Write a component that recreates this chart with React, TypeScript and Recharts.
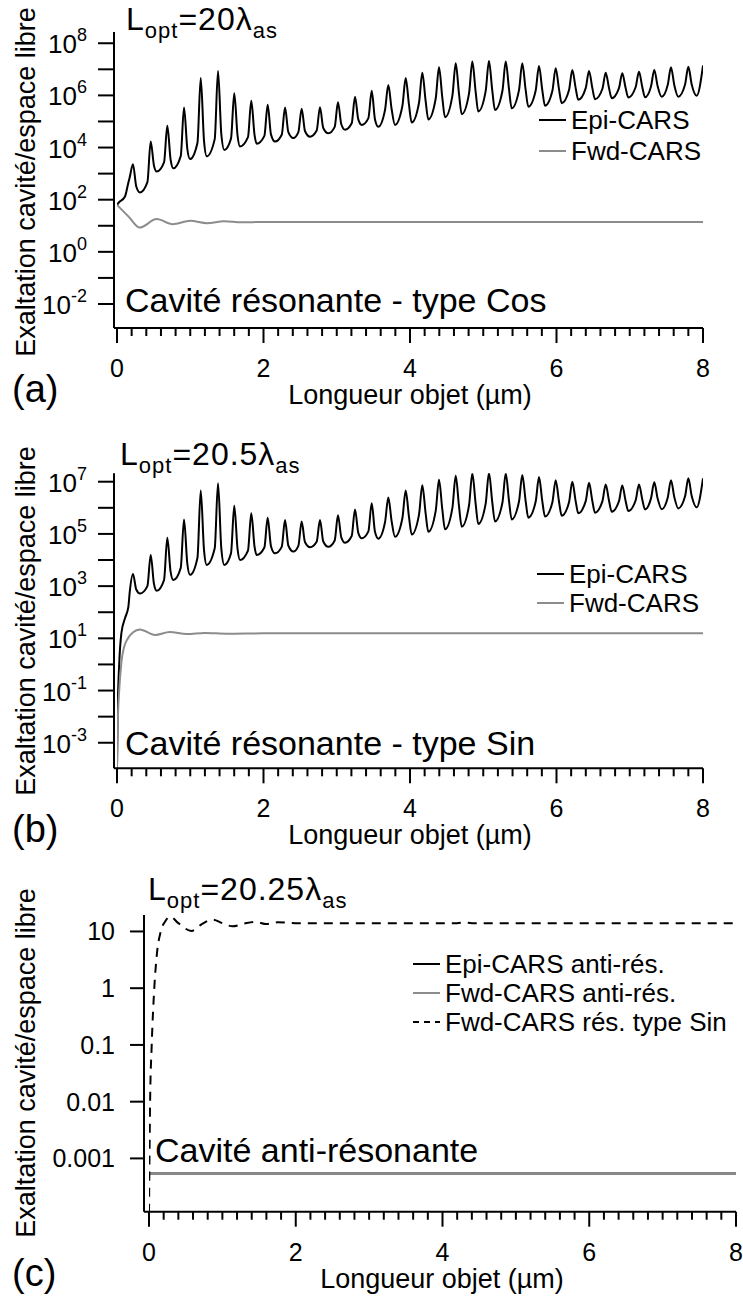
import React from "react";
import { LineChart, Line, XAxis, YAxis } from "recharts";

const FONT = "'Liberation Sans', Arial, Helvetica, sans-serif";
const GREY = "#8c8c8c";
const W = 743;

// abscissa (µm)
const xMajorTicks = [0, 2, 4, 6, 8];
const xAllTicks = Array.from({ length: 41 }, (_, i) => Math.round(i * 2) / 10);

// (a) + (b): Epi-CARS resonances - foot before the peak, peak, foot after, minimum (µm)
const epiPreX = [
  0.173, 0.415, 0.642, 0.87, 1.098, 1.334, 1.556, 1.788, 2.012, 2.249, 2.476, 2.726,
  2.972, 3.204, 3.432, 3.659, 3.896, 4.123, 4.351, 4.579, 4.806, 5.033, 5.262, 5.488,
  5.716, 5.944, 6.171, 6.399, 6.627, 6.853, 7.081, 7.29, 7.518, 7.755,
];
const epiPeakX = [
  0.218, 0.46, 0.687, 0.915, 1.143, 1.379, 1.601, 1.833, 2.057, 2.294, 2.521, 2.771,
  3.017, 3.249, 3.477, 3.704, 3.941, 4.168, 4.396, 4.624, 4.851, 5.078, 5.307, 5.533,
  5.761, 5.989, 6.216, 6.444, 6.672, 6.898, 7.126, 7.335, 7.563, 7.8,
];
const epiPostX = [
  0.263, 0.505, 0.732, 0.96, 1.188, 1.424, 1.646, 1.878, 2.102, 2.339, 2.566, 2.816,
  3.062, 3.294, 3.522, 3.749, 3.986, 4.213, 4.441, 4.669, 4.896, 5.123, 5.352, 5.578,
  5.806, 6.034, 6.261, 6.489, 6.717, 6.943, 7.171, 7.38, 7.608, 7.845,
];
const epiDipX = [
  0.314, 0.542, 0.769, 0.997, 1.225, 1.465, 1.679, 1.907, 2.157, 2.407, 2.635, 2.885,
  3.113, 3.341, 3.567, 3.795, 4.023, 4.25, 4.478, 4.706, 4.932, 5.16, 5.388, 5.615,
  5.843, 6.071, 6.297, 6.525, 6.754, 6.98, 7.208, 7.436, 7.663, 7.914,
];

// (a) cavité résonante - type Cos
const cosEpiStartX = [0, 0.018, 0.109, 0.154];
const cosEpiStart = [63, 74, 132, 440];
const cosEpiPre = [
  710, 470, 2.7e3, 4.7e3, 1.5e4, 2.1e4, 2.2e4, 2.5e4, 2.8e4, 3.1e4, 3.9e4, 4.5e4,
  6.2e4, 8.5e4, 1.35e5, 2.75e5, 3.9e5, 5.2e5, 7.6e5, 9.8e5, 1.2e6, 1.45e6, 1.5e6, 1.6e6,
  1.55e6, 1.5e6, 1.6e6, 1.9e6, 1.8e6, 1.9e6, 2.1e6, 2.2e6, 2.5e6, 2.6e6,
];
const cosEpiPeaks = [
  2.3e3, 1.7e4, 6.8e4, 3.4e5, 4.6e6, 8.7e6, 1.2e6, 6.2e5, 4.4e5, 3.4e5, 3.1e5, 3.5e5,
  5.5e5, 8.9e5, 1.5e6, 2.5e6, 4.6e6, 7.4e6, 1.2e7, 1.7e7, 2.0e7, 2.1e7, 2.0e7, 1.7e7,
  1.35e7, 1.1e7, 9.5e6, 8.7e6, 7.4e6, 7.1e6, 8.1e6, 9.5e6, 1.2e7, 1.25e7,
];
const cosEpiPost = [
  320, 2.0e3, 3.4e3, 8.9e3, 1.8e4, 3.3e4, 2.8e4, 3.0e4, 3.2e4, 3.9e4, 4.3e4, 5.6e4,
  7.8e4, 1.2e5, 1.2e5, 3.0e5, 4.4e5, 6.3e5, 8.3e5, 1.15e6, 1.4e6, 1.55e6, 1.7e6, 1.7e6,
  1.6e6, 1.75e6, 1.95e6, 1.95e6, 1.9e6, 1.95e6, 2.1e6, 2.3e6, 2.5e6, 2.7e6,
];
const cosEpiDips = [
  190, 1.2e3, 1.6e3, 3.6e3, 4.6e3, 8.1e3, 1.1e4, 1.4e4, 1.7e4, 2.3e4, 2.6e4, 3.5e4,
  4.8e4, 7.4e4, 6.3e4, 7.4e4, 9.1e4, 1.2e5, 1.45e5, 1.9e5, 2.4e5, 2.75e5, 3.2e5, 3.7e5,
  4.0e5, 5.0e5, 6.8e5, 7.1e5, 7.8e5, 8.3e5, 8.5e5, 8.9e5, 8.9e5, 9.8e5,
];
const cosEpiEnd = 1.4e7;
const cosFwdX = [0, 0.155, 0.31, 0.54, 0.76, 1.0, 1.23, 1.46, 1.7, 2.0, 8];
const cosFwd = [63, 23, 8.5, 18, 11.5, 15.5, 12.6, 15, 13.5, 14, 14];

// (b) cavité résonante - type Sin
const sinEpiStartX = [0, 0.008, 0.03, 0.06, 0.11, 0.155];
const sinEpiStart = [1.1e-4, 1e-2, 1, 16, 60, 160];
const sinEpiPre = [
  560, 1.0e3, 1.7e3, 5.0e3, 1.2e4, 2.8e4, 1.8e4, 2.3e4, 3.0e4, 3.2e4, 3.5e4, 5.0e4,
  5.6e4, 8.3e4, 1.25e5, 2.8e5, 4.0e5, 5.5e5, 7.6e5, 1.0e6, 1.25e6, 1.45e6, 1.6e6, 1.75e6,
  1.75e6, 1.65e6, 1.65e6, 1.8e6, 1.8e6, 1.8e6, 1.95e6, 2.3e6, 2.45e6, 2.75e6,
];
const sinEpiPeaks = [
  2.9e3, 1.55e4, 7.1e4, 3.6e5, 4.6e6, 8.7e6, 1.2e6, 6.2e5, 4.2e5, 3.4e5, 3.0e5, 3.4e5,
  5.2e5, 8.7e5, 1.5e6, 2.5e6, 4.6e6, 7.4e6, 1.2e7, 1.7e7, 2.1e7, 2.2e7, 2.1e7, 1.8e7,
  1.5e7, 1.15e7, 1.0e7, 9.1e6, 7.9e6, 7.2e6, 7.9e6, 9.5e6, 1.15e7, 1.35e7,
];
const sinEpiPost = [
  740, 1.2e3, 3.5e3, 7.2e3, 2.4e4, 2.8e4, 2.6e4, 3.2e4, 3.4e4, 3.6e4, 4.9e4, 5.1e4,
  7.4e4, 1.1e5, 1.2e5, 3.1e5, 4.5e5, 6.3e5, 8.7e5, 1.15e6, 1.45e6, 1.65e6, 1.8e6, 1.9e6,
  1.8e6, 1.75e6, 1.85e6, 1.85e6, 1.85e6, 1.85e6, 2.1e6, 2.3e6, 2.6e6, 2.9e6,
];
const sinEpiDips = [
  520, 660, 1.7e3, 2.7e3, 6.5e3, 6.5e3, 1.0e4, 1.55e4, 1.8e4, 2.1e4, 3.1e4, 3.2e4,
  4.6e4, 6.8e4, 6.6e4, 7.8e4, 9.5e4, 1.2e5, 1.5e5, 1.9e5, 2.4e5, 3.0e5, 3.6e5, 4.2e5,
  4.6e5, 5.0e5, 6.2e5, 6.5e5, 7.1e5, 7.6e5, 8.7e5, 8.9e5, 9.5e5, 1.05e6,
];
const sinEpiEnd = 1.35e7;
const sinFwdX = [0, 0.01, 0.03, 0.06, 0.1, 0.15, 0.22, 0.31, 0.52, 0.72, 0.95, 1.2, 1.5, 2, 8];
const sinFwd = [1.1e-4, 5e-3, 0.1, 1.2, 5, 10, 17, 22, 13.5, 17.5, 14.5, 16, 15, 15.5, 15.5];

// (c) cavité anti-résonante
const antiX = [0, 8];
const antiEpi = [5.4e-4, 5.4e-4];
const antiFwd = [5.4e-4, 5.4e-4];
const sinRefX = [
  0, 0.015, 0.037, 0.072, 0.105, 0.16, 0.22, 0.286, 0.4, 0.58, 0.72, 0.87, 1.0, 1.14,
  1.3, 1.45, 1.6, 1.75, 2.0, 3.0, 4.2, 4.3, 4.4, 5.0, 8,
];
const sinRef = [
  1.1e-4, 1e-2, 0.1, 1, 3.7, 10, 15, 18.4, 14, 10.2, 13.5, 16.2, 14, 12.3,
  13.8, 14.8, 13.5, 14.5, 14, 14, 14, 14.5, 14, 14, 14,
];

// y ticks
const cosTicks = [1e-2, 1e-1, 1, 1e1, 1e2, 1e3, 1e4, 1e5, 1e6, 1e7, 1e8];
const sinTicks = [1e-3, 1e-2, 1e-1, 1, 1e1, 1e2, 1e3, 1e4, 1e5, 1e6, 1e7];
const antiTicks = [0.001, 0.01, 0.1, 1, 10];
const antiTickLabels = ["0.001", "0.01", "0.1", "1", "10"];

type Pt = { x: number; y: number };
const pts = (xs: number[], ys: number[]): Pt[] => xs.map((x, i) => ({ x, y: ys[i] }));

function epiSeries(
  sx: number[],
  sy: number[],
  pre: number[],
  peaks: number[],
  post: number[],
  dips: number[],
  end: number
) {
  const out = pts(sx, sy);
  epiPeakX.forEach((px, i) => {
    out.push({ x: epiPreX[i], y: pre[i] });
    out.push({ x: px, y: peaks[i] });
    out.push({ x: epiPostX[i], y: post[i] });
    out.push({ x: epiDipX[i], y: dips[i] });
  });
  out.push({ x: 8, y: end });
  return out;
}

const XTick = (props: any) => {
  const { x, y, payload } = props;
  const v = payload.value;
  const major = xMajorTicks.some((m) => Math.abs(m - v) < 1e-6);
  return (
    <g>
      <line x1={x} x2={x} y1={y} y2={y + (major ? 15 : 8)} stroke="#000" strokeWidth={2} />
      {major && (
        <text x={x} y={y + 49} textAnchor="middle" fontFamily={FONT} fontSize={25} fill="#000">
          {Math.round(v)}
        </text>
      )}
    </g>
  );
};

const powTick = (odd: boolean) => (props: any) => {
  const { x, y, payload } = props;
  const e = Math.round(Math.log10(payload.value));
  const show = Math.abs(e % 2) === (odd ? 1 : 0);
  return (
    <g>
      <line x1={x} x2={x - 16} y1={y} y2={y} stroke="#000" strokeWidth={2} />
      {show && (
        <text x={x - 27} y={y + 10} textAnchor="end" fontFamily={FONT} fontSize={26} fill="#000">
          10
          <tspan dy={-12} fontSize={18}>
            {e}
          </tspan>
        </text>
      )}
    </g>
  );
};

const decTick = (props: any) => {
  const { x, y, payload } = props;
  const i = antiTicks.findIndex((t) => Math.abs(t - payload.value) / t < 1e-6);
  return (
    <g>
      <line x1={x} x2={x - 14} y1={y} y2={y} stroke="#000" strokeWidth={2} />
      <text x={x - 29} y={y + 9} textAnchor="end" fontFamily={FONT} fontSize={25} fill="#000">
        {antiTickLabels[i]}
      </text>
    </g>
  );
};

interface Series {
  data: Pt[];
  color: string;
  dash?: string;
}

interface PanelProps {
  top: number;
  height: number;
  plotTop: number;
  plotBottom: number;
  axisX: number;
  zeroX: number;
  endX: number;
  domain: [number, number];
  ticks: number[];
  tick: (p: any) => React.ReactElement;
  series: Series[];
  children?: React.ReactNode;
}

const XAXIS_H = 80;

function Panel(p: PanelProps) {
  return (
    <div style={{ position: "absolute", left: 0, top: p.top, width: W, height: p.height }}>
      <LineChart
        width={W}
        height={p.height}
        margin={{ top: p.plotTop, right: W - p.endX, bottom: p.height - p.plotBottom - XAXIS_H, left: 0 }}
      >
        <XAxis
          type="number"
          dataKey="x"
          domain={[0, 8]}
          ticks={xAllTicks}
          interval={0}
          allowDataOverflow
          padding={{ left: p.zeroX - p.axisX, right: 0 }}
          height={XAXIS_H}
          tickSize={0}
          tickMargin={0}
          tickLine={false}
          axisLine={{ stroke: "#000", strokeWidth: 2 }}
          tick={XTick}
        />
        <YAxis
          type="number"
          scale="log"
          domain={p.domain}
          ticks={p.ticks}
          interval={0}
          allowDataOverflow
          width={p.axisX}
          tickSize={0}
          tickMargin={0}
          tickLine={false}
          axisLine={{ stroke: "#000", strokeWidth: 2 }}
          tick={p.tick}
        />
        {p.series.map((s, i) => (
          <Line
            key={i}
            data={s.data}
            dataKey="y"
            type="monotone"
            stroke={s.color}
            strokeWidth={2}
            strokeDasharray={s.dash}
            dot={false}
            activeDot={false}
            isAnimationActive={false}
          />
        ))}
      </LineChart>
      <svg
        width={W}
        height={p.height}
        style={{ position: "absolute", left: 0, top: 0, pointerEvents: "none" }}
        fontFamily={FONT}
      >
        {p.children}
      </svg>
    </div>
  );
}

const Lopt = ({ x, y, value }: { x: number; y: number; value: string }) => (
  <text x={x} y={y} fontSize={32} letterSpacing={1} fill="#000">
    L
    <tspan dy={8} fontSize={22}>opt</tspan>
    <tspan dy={-8}>={value}λ</tspan>
    <tspan dy={8} fontSize={22}>as</tspan>
  </text>
);

const LegendRow = ({ x, y, label, color, dash }: { x: number; y: number; label: string; color: string; dash?: string }) => (
  <g>
    <line x1={x} x2={x + 27} y1={y} y2={y} stroke={color} strokeWidth={2} strokeDasharray={dash} />
    <text x={x + 32} y={y + 9} fontSize={26} fill="#000">
      {label}
    </text>
  </g>
);

const Titles = ({ yMid, xMid, axisY, tag }: { yMid: number; xMid: number; axisY: number; tag: string }) => (
  <g fill="#000">
    <text transform={`translate(35, ${yMid}) rotate(-90)`} textAnchor="middle" fontSize={27}>
      Exaltation cavité/espace libre
    </text>
    <text x={xMid} y={axisY + 76} textAnchor="middle" fontSize={27}>
      Longueur objet (µm)
    </text>
    <text x={12} y={axisY + 74} fontSize={38}>
      {tag}
    </text>
  </g>
);

export default function App() {
  const cosEpi = epiSeries(cosEpiStartX, cosEpiStart, cosEpiPre, cosEpiPeaks, cosEpiPost, cosEpiDips, cosEpiEnd);
  const sinEpi = epiSeries(sinEpiStartX, sinEpiStart, sinEpiPre, sinEpiPeaks, sinEpiPost, sinEpiDips, sinEpiEnd);

  return (
    <div style={{ position: "absolute", left: 0, top: 0, width: W, height: 1302, background: "#fff" }}>
      <Panel
        top={0}
        height={420}
        plotTop={32}
        plotBottom={328}
        axisX={114}
        zeroX={117}
        endX={703}
        domain={[1.2e-3, 2.7e8]}
        ticks={cosTicks}
        tick={powTick(false)}
        series={[
          { data: cosEpi, color: "#000" },
          { data: pts(cosFwdX, cosFwd), color: GREY },
        ]}
      >
        <Titles yMid={182} xMid={410} axisY={328} tag="(a)" />
        <Lopt x={126} y={30} value="20" />
        <text x={125} y={312} fontSize={34} fill="#000">
          Cavité résonante - type Cos
        </text>
        <LegendRow x={539} y={120} label="Epi-CARS" color="#000" />
        <LegendRow x={539} y={151} label="Fwd-CARS" color={GREY} />
      </Panel>

      <Panel
        top={420}
        height={440}
        plotTop={53.3}
        plotBottom={348.3}
        axisX={114}
        zeroX={117}
        endX={703}
        domain={[1.05e-4, 2.1e7]}
        ticks={sinTicks}
        tick={powTick(true)}
        series={[
          { data: sinEpi, color: "#000" },
          { data: pts(sinFwdX, sinFwd), color: GREY },
        ]}
      >
        <Titles yMid={201} xMid={410} axisY={348.3} tag="(b)" />
        <Lopt x={120} y={45} value="20.5" />
        <text x={125} y={335} fontSize={34} fill="#000">
          Cavité résonante - type Sin
        </text>
        <LegendRow x={537} y={154} label="Epi-CARS" color="#000" />
        <LegendRow x={537} y={183} label="Fwd-CARS" color={GREY} />
      </Panel>

      <Panel
        top={860}
        height={442}
        plotTop={55}
        plotBottom={351.7}
        axisX={144}
        zeroX={149}
        endX={736}
        domain={[1.15e-4, 19.5]}
        ticks={antiTicks}
        tick={decTick}
        series={[
          { data: pts(antiX, antiEpi), color: "#000" },
          { data: pts(antiX, antiFwd), color: GREY },
          { data: pts(sinRefX, sinRef), color: "#000", dash: "9 7" },
        ]}
      >
        <Titles yMid={203} xMid={442} axisY={351.7} tag="(c)" />
        <Lopt x={148} y={40} value="20.25" />
        <text x={155} y={302} fontSize={34} fill="#000">
          Cavité anti-résonante
        </text>
        <LegendRow x={413} y={104} label="Epi-CARS anti-rés." color="#000" />
        <LegendRow x={413} y={133} label="Fwd-CARS anti-rés." color={GREY} />
        <LegendRow x={413} y={162} label="Fwd-CARS rés. type Sin" color="#000" dash="6 5" />
      </Panel>
    </div>
  );
}
